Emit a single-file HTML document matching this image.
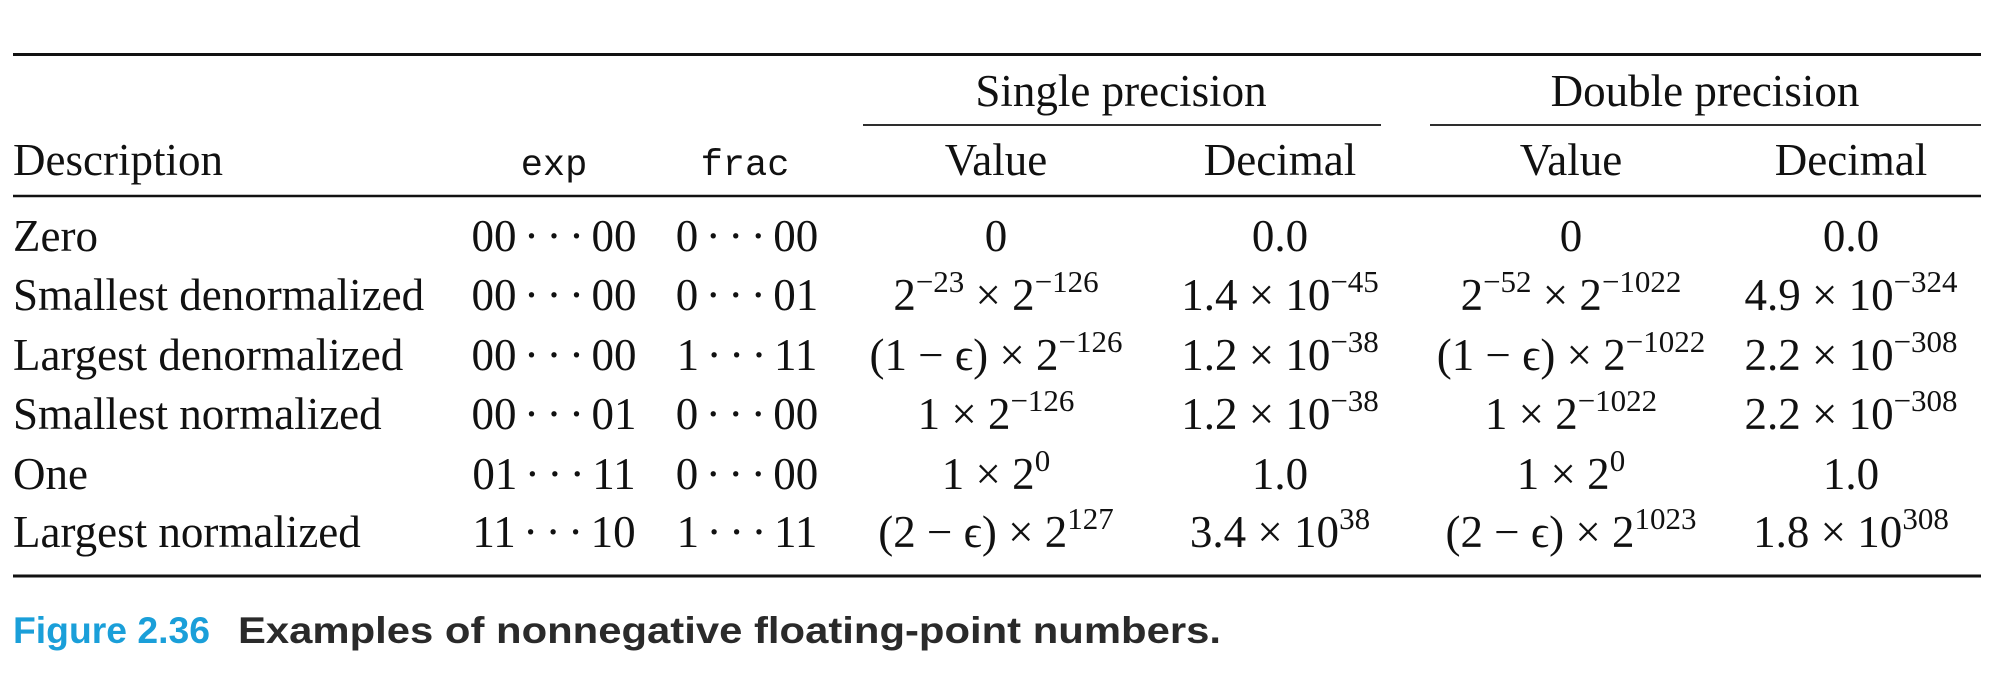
<!DOCTYPE html>
<html><head><meta charset="utf-8"><style>
html,body{margin:0;padding:0;background:#fff;width:2010px;height:690px;overflow:hidden}
svg text{font-family:"Liberation Serif","DejaVu Serif",serif;fill:#111}
.m{font-family:"Liberation Mono",monospace !important}
.cap{font-family:"Liberation Sans",sans-serif !important;font-weight:bold}
</style></head><body>
<svg width="2010" height="690" viewBox="0 0 2010 690">
<line x1="13" x2="1981" y1="54.5" y2="54.5" stroke="#111" stroke-width="3"/>
<text x="1121" y="106" font-size="45" text-anchor="middle">Single precision</text>
<text x="1705" y="106" font-size="45" text-anchor="middle">Double precision</text>
<line x1="863" x2="1381" y1="125" y2="125" stroke="#111" stroke-width="1.8"/>
<line x1="1430" x2="1981" y1="125" y2="125" stroke="#111" stroke-width="1.8"/>
<g font-size="45">
<text x="13" y="175">Description</text>
<text x="554" y="175" class="m" font-size="37" text-anchor="middle">exp</text>
<text x="745" y="175" class="m" font-size="37" text-anchor="middle">frac</text>
<text x="996" y="175" text-anchor="middle">Value</text>
<text x="1280" y="175" text-anchor="middle">Decimal</text>
<text x="1571" y="175" text-anchor="middle">Value</text>
<text x="1851" y="175" text-anchor="middle">Decimal</text>
</g>
<line x1="13" x2="1981" y1="196" y2="196" stroke="#111" stroke-width="2.6"/>

<g font-size="45">
<text x="13" y="251">Zero</text>
<text x="554" y="251" text-anchor="middle">00&#8198;·&#8198;·&#8198;·&#8198;00</text>
<text x="747" y="251" text-anchor="middle">0&#8198;·&#8198;·&#8198;·&#8198;00</text>
<text x="996" y="251" text-anchor="middle">0</text>
<text x="1280" y="251" text-anchor="middle">0.0</text>
<text x="1571" y="251" text-anchor="middle">0</text>
<text x="1851" y="251" text-anchor="middle">0.0</text>
</g>
<g font-size="45">
<text x="13" y="310">Smallest denormalized</text>
<text x="554" y="310" text-anchor="middle">00&#8198;·&#8198;·&#8198;·&#8198;00</text>
<text x="747" y="310" text-anchor="middle">0&#8198;·&#8198;·&#8198;·&#8198;01</text>
<text x="996" y="310" text-anchor="middle">2<tspan font-size="31" dy="-18">−23</tspan><tspan dy="18"> × 2</tspan><tspan font-size="31" dy="-18">−126</tspan></text>
<text x="1280" y="310" text-anchor="middle">1.4 × 10<tspan font-size="31" dy="-18">−45</tspan></text>
<text x="1571" y="310" text-anchor="middle">2<tspan font-size="31" dy="-18">−52</tspan><tspan dy="18"> × 2</tspan><tspan font-size="31" dy="-18">−1022</tspan></text>
<text x="1851" y="310" text-anchor="middle">4.9 × 10<tspan font-size="31" dy="-18">−324</tspan></text>
</g>
<g font-size="45">
<text x="13" y="370">Largest denormalized</text>
<text x="554" y="370" text-anchor="middle">00&#8198;·&#8198;·&#8198;·&#8198;00</text>
<text x="747" y="370" text-anchor="middle">1&#8198;·&#8198;·&#8198;·&#8198;11</text>
<text x="996" y="370" text-anchor="middle">(1 − ϵ) × 2<tspan font-size="31" dy="-18">−126</tspan></text>
<text x="1280" y="370" text-anchor="middle">1.2 × 10<tspan font-size="31" dy="-18">−38</tspan></text>
<text x="1571" y="370" text-anchor="middle">(1 − ϵ) × 2<tspan font-size="31" dy="-18">−1022</tspan></text>
<text x="1851" y="370" text-anchor="middle">2.2 × 10<tspan font-size="31" dy="-18">−308</tspan></text>
</g>
<g font-size="45">
<text x="13" y="429">Smallest normalized</text>
<text x="554" y="429" text-anchor="middle">00&#8198;·&#8198;·&#8198;·&#8198;01</text>
<text x="747" y="429" text-anchor="middle">0&#8198;·&#8198;·&#8198;·&#8198;00</text>
<text x="996" y="429" text-anchor="middle">1 × 2<tspan font-size="31" dy="-18">−126</tspan></text>
<text x="1280" y="429" text-anchor="middle">1.2 × 10<tspan font-size="31" dy="-18">−38</tspan></text>
<text x="1571" y="429" text-anchor="middle">1 × 2<tspan font-size="31" dy="-18">−1022</tspan></text>
<text x="1851" y="429" text-anchor="middle">2.2 × 10<tspan font-size="31" dy="-18">−308</tspan></text>
</g>
<g font-size="45">
<text x="13" y="489">One</text>
<text x="554" y="489" text-anchor="middle">01&#8198;·&#8198;·&#8198;·&#8198;11</text>
<text x="747" y="489" text-anchor="middle">0&#8198;·&#8198;·&#8198;·&#8198;00</text>
<text x="996" y="489" text-anchor="middle">1 × 2<tspan font-size="31" dy="-18">0</tspan></text>
<text x="1280" y="489" text-anchor="middle">1.0</text>
<text x="1571" y="489" text-anchor="middle">1 × 2<tspan font-size="31" dy="-18">0</tspan></text>
<text x="1851" y="489" text-anchor="middle">1.0</text>
</g>
<g font-size="45">
<text x="13" y="547">Largest normalized</text>
<text x="554" y="547" text-anchor="middle">11&#8198;·&#8198;·&#8198;·&#8198;10</text>
<text x="747" y="547" text-anchor="middle">1&#8198;·&#8198;·&#8198;·&#8198;11</text>
<text x="996" y="547" text-anchor="middle">(2 − ϵ) × 2<tspan font-size="31" dy="-18">127</tspan></text>
<text x="1280" y="547" text-anchor="middle">3.4 × 10<tspan font-size="31" dy="-18">38</tspan></text>
<text x="1571" y="547" text-anchor="middle">(2 − ϵ) × 2<tspan font-size="31" dy="-18">1023</tspan></text>
<text x="1851" y="547" text-anchor="middle">1.8 × 10<tspan font-size="31" dy="-18">308</tspan></text>
</g>
<line x1="13" x2="1981" y1="576" y2="576" stroke="#111" stroke-width="3"/>
<text x="13" y="643" class="cap" font-size="37" textLength="197" lengthAdjust="spacingAndGlyphs" style="fill:#1a9fd9">Figure 2.36</text>
<text x="238" y="643" class="cap" font-size="37" textLength="983" lengthAdjust="spacingAndGlyphs" style="fill:#2a2a2a">Examples of nonnegative floating-point numbers.</text>
</svg>
</body></html>
